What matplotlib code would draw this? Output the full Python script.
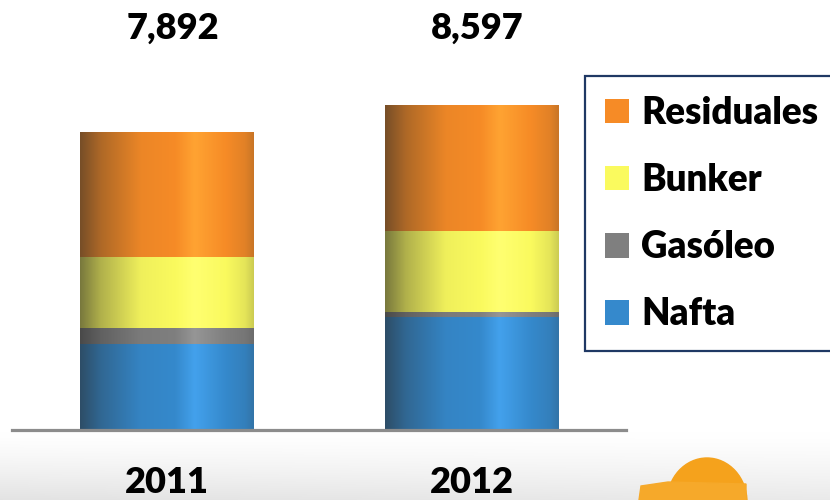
import numpy as np
import matplotlib
matplotlib.use("Agg")
import matplotlib.pyplot as plt
from matplotlib.colors import to_rgb
from matplotlib.patches import Ellipse, Polygon

# ---------------- data ----------------
years = ["2011", "2012"]
nafta = [2275, 2990]
gasoleo = [425, 130]
bunker = [1877, 2143]
residuales = [3315, 3334]
totals = [7892, 8597]

series_names = ["Nafta", "Gasóleo", "Bunker", "Residuales"]
series_values = [nafta, gasoleo, bunker, residuales]
series_colors = ["#3589cc", "#7f7f7f", "#fafa5e", "#f68b26"]

plt.rcParams["font.family"] = ["Lato", "DejaVu Sans"]
WEIGHT = "heavy"

W, H = 830, 500
fig = plt.figure(figsize=(W / 100, H / 100), dpi=100)
fig.patch.set_facecolor("white")

# ---------------- background gradient (bottom band) ----------------
bg = fig.add_axes([0, 0, 1, 1], zorder=0)
bg.set_xlim(0, W)
bg.set_ylim(H, 0)
bg.axis("off")
gy = np.linspace(0, 1, 80)[:, None]
gx = np.linspace(0, 1, 200)[None, :]
strength = np.clip(gy, 0, 1) ** 1.3 * (0.75 + 0.25 * (1 - gx))
img = np.ones((80, 200, 3)) - strength[..., None] * 0.11
bg.imshow(img, extent=[0, W, 500, 432], aspect="auto", zorder=0)

# logo (decorative hard hat)
bg.add_patch(Ellipse((707, 502), 80, 88, color="#f5a21c", zorder=2))
bg.add_patch(Polygon([[639, 500], [641, 486], [668, 482], [746, 484], [746, 500]],
                     closed=True, color="#f6a92a", zorder=3))

# ---------------- main axes ----------------
ax = fig.add_axes([12 / W, 70 / H, 614 / W, 430 / H], zorder=1)
ax.patch.set_alpha(0)
x = np.arange(len(years))
bar_w = 173 / 305


def shaded_row(color):
    base = np.array(to_rgb(color))
    dark = np.array([0.16, 0.16, 0.16])
    hi = np.clip(base * 1.12 + 0.03, 0, 1)
    stops_t = [0.0, 0.12, 0.35, 0.55, 0.66, 0.84, 0.95, 1.0]
    stops_c = [
        base * 0.38 + dark * 0.62,
        base * 0.65 + dark * 0.35,
        base * 0.95 + dark * 0.05,
        base,
        hi,
        base,
        base * 0.9 + dark * 0.1,
        base * 0.78 + dark * 0.22,
    ]
    t = np.linspace(0, 1, 256)
    row = np.stack([np.interp(t, stops_t, [c[i] for c in stops_c]) for i in range(3)], axis=-1)
    return np.clip(row[None, :, :], 0, 1)


bottom = np.zeros(len(years))
handles = []
for name, vals, col in zip(series_names, series_values, series_colors):
    bars = ax.bar(x, vals, width=bar_w, bottom=bottom, color=col, label=name,
                  zorder=2, linewidth=0)
    handles.append(bars)
    grad = shaded_row(col)
    for p in bars.patches:
        im = ax.imshow(grad, extent=[p.get_x(), p.get_x() + p.get_width(),
                                     p.get_y(), p.get_y() + p.get_height()],
                       aspect="auto", zorder=3, interpolation="bilinear")
        im.set_clip_path(p)
    bottom = bottom + np.array(vals)

ax.set_xlim(-154.5 / 305, -154.5 / 305 + 614 / 305)
ax.set_ylim(0, 430 * totals[0] / 298.3)

for s in ["top", "left", "right"]:
    ax.spines[s].set_visible(False)
ax.spines["bottom"].set_color("#8c8c8c")
ax.spines["bottom"].set_linewidth(2.3)
ax.spines["bottom"].set_zorder(4)
ax.set_yticks([])
ax.set_xticks(x, years)
ax.tick_params(axis="x", length=0, pad=26, labelsize=26)
for lbl in ax.get_xticklabels():
    lbl.set_fontweight(WEIGHT)

for xi, t in zip(x, totals):
    ax.text(xi + 0.02, 1 - 39 / 430, f"{t:,}", transform=ax.get_xaxis_transform(),
            ha="center", va="baseline", fontsize=26, fontweight=WEIGHT, color="black")

# ---------------- legend ----------------
leg = fig.legend(handles[::-1], series_names[::-1], loc="upper left",
                 bbox_to_anchor=(585 / W, 1 - 76 / H), bbox_transform=fig.transFigure,
                 prop={"family": ["Lato", "DejaVu Sans"], "weight": WEIGHT, "size": 26.5},
                 frameon=True, fancybox=False, edgecolor="#1f3864", framealpha=1,
                 handlelength=0.655, handleheight=0.655, handletextpad=0.33,
                 labelspacing=0.9, borderpad=0.54, borderaxespad=0)
leg.get_frame().set_linewidth(1.6)

fig.savefig("out.png", dpi=100)
